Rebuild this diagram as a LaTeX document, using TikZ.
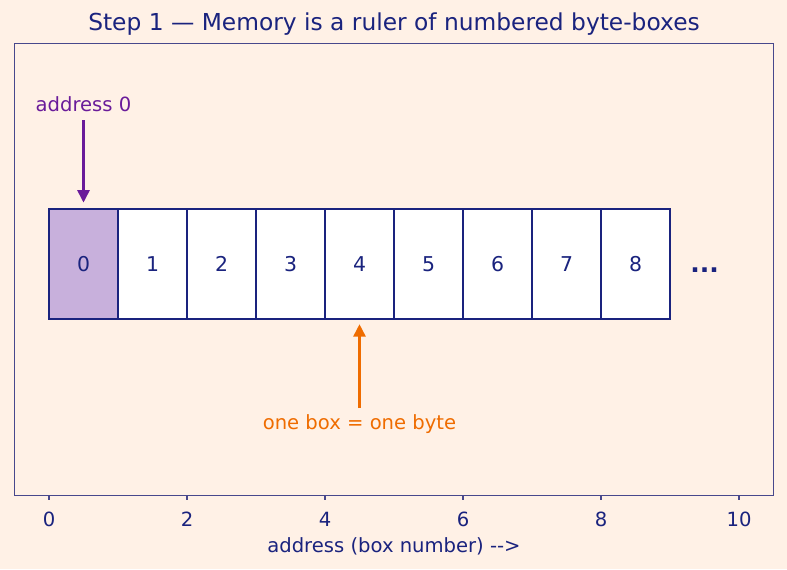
\documentclass[tikz,border=0pt]{standalone}
\usepackage{fontspec}
\setmainfont{DejaVu Sans}
\usetikzlibrary{arrows.meta,positioning}
\definecolor{paper}{RGB}{255,241,230}
\definecolor{navy}{RGB}{26,35,126}
\definecolor{framecol}{RGB}{72,72,140}
\definecolor{lilac}{RGB}{200,176,220}
\definecolor{plum}{RGB}{106,27,154}
\definecolor{amber}{RGB}{239,108,0}
\tikzset{
  cell/.style={draw=navy,line width=1pt,fill=white,minimum width=33.12pt,minimum height=52.92pt,inner sep=0pt,font=\fontsize{9.8}{11}\selectfont,text=navy},
  first/.style={cell,fill=lilac},
  ticklab/.style={font=\fontsize{9.4}{11}\selectfont,text=navy},
  note/.style={font=\fontsize{9.4}{11}\selectfont},
  ptr/.style={-{Triangle[length=6pt,width=5.6pt]},line width=1.7pt}
}
\begin{document}
\begin{tikzpicture}[x=33.12pt,y=52.92pt]
\useasboundingbox[fill=paper] (-0.7101,-2.2678) rectangle (10.6957,2.8937);
\node[font=\fontsize{11.2}{13}\selectfont,text=navy] (ttl) at (5,2.676) {Step 1 — Memory is a ruler of numbered byte-boxes};
% axes frame and ticks
\draw[framecol,line width=0.8pt] (-0.5,-1.6) rectangle (10.5,2.5);
\draw[framecol,line width=0.8pt] (0,-1.6) -- ++(0,-2.4pt);
\draw[framecol,line width=0.8pt] (2,-1.6) -- ++(0,-2.4pt);
\draw[framecol,line width=0.8pt] (4,-1.6) -- ++(0,-2.4pt);
\draw[framecol,line width=0.8pt] (6,-1.6) -- ++(0,-2.4pt);
\draw[framecol,line width=0.8pt] (8,-1.6) -- ++(0,-2.4pt);
\draw[framecol,line width=0.8pt] (10,-1.6) -- ++(0,-2.4pt);
\node[ticklab] (t0) at (0,-1.814) {0};
\node[ticklab] (t2) at (2,-1.814) {2};
\node[ticklab] (t4) at (4,-1.814) {4};
\node[ticklab] (t6) at (6,-1.814) {6};
\node[ticklab] (t8) at (8,-1.814) {8};
\node[ticklab] (t10) at (10,-1.814) {10};
\node[note,text=navy] (xlab) at (5,-2.059) {address (box number) -{}->};
% the byte boxes
\node[first] (b0) at (0.5,0.5) {0};
\node[cell] (b1) at (1.5,0.5) {1};
\node[cell] (b2) at (2.5,0.5) {2};
\node[cell] (b3) at (3.5,0.5) {3};
\node[cell] (b4) at (4.5,0.5) {4};
\node[cell] (b5) at (5.5,0.5) {5};
\node[cell] (b6) at (6.5,0.5) {6};
\node[cell] (b7) at (7.5,0.5) {7};
\node[cell] (b8) at (8.5,0.5) {8};
\node[anchor=base,font=\fontsize{12}{14}\selectfont\bfseries,text=navy] (more) at (9.5,0.426) {...};
% pointers
\node[note,text=plum] (addr) at (0.5,1.95) {address 0};
\coordinate (addrtail) at (0.5,1.805);
\draw[ptr,plum] (addrtail) -- ([yshift=2.4pt]b0.north);
\node[note,text=amber] (bytenote) at (4.5,-0.952) {one box = one byte};
\coordinate (bytetail) at (4.5,-0.807);
\draw[ptr,amber] (bytetail) -- ([yshift=-1.9pt]b4.south);
\end{tikzpicture}
\end{document}
